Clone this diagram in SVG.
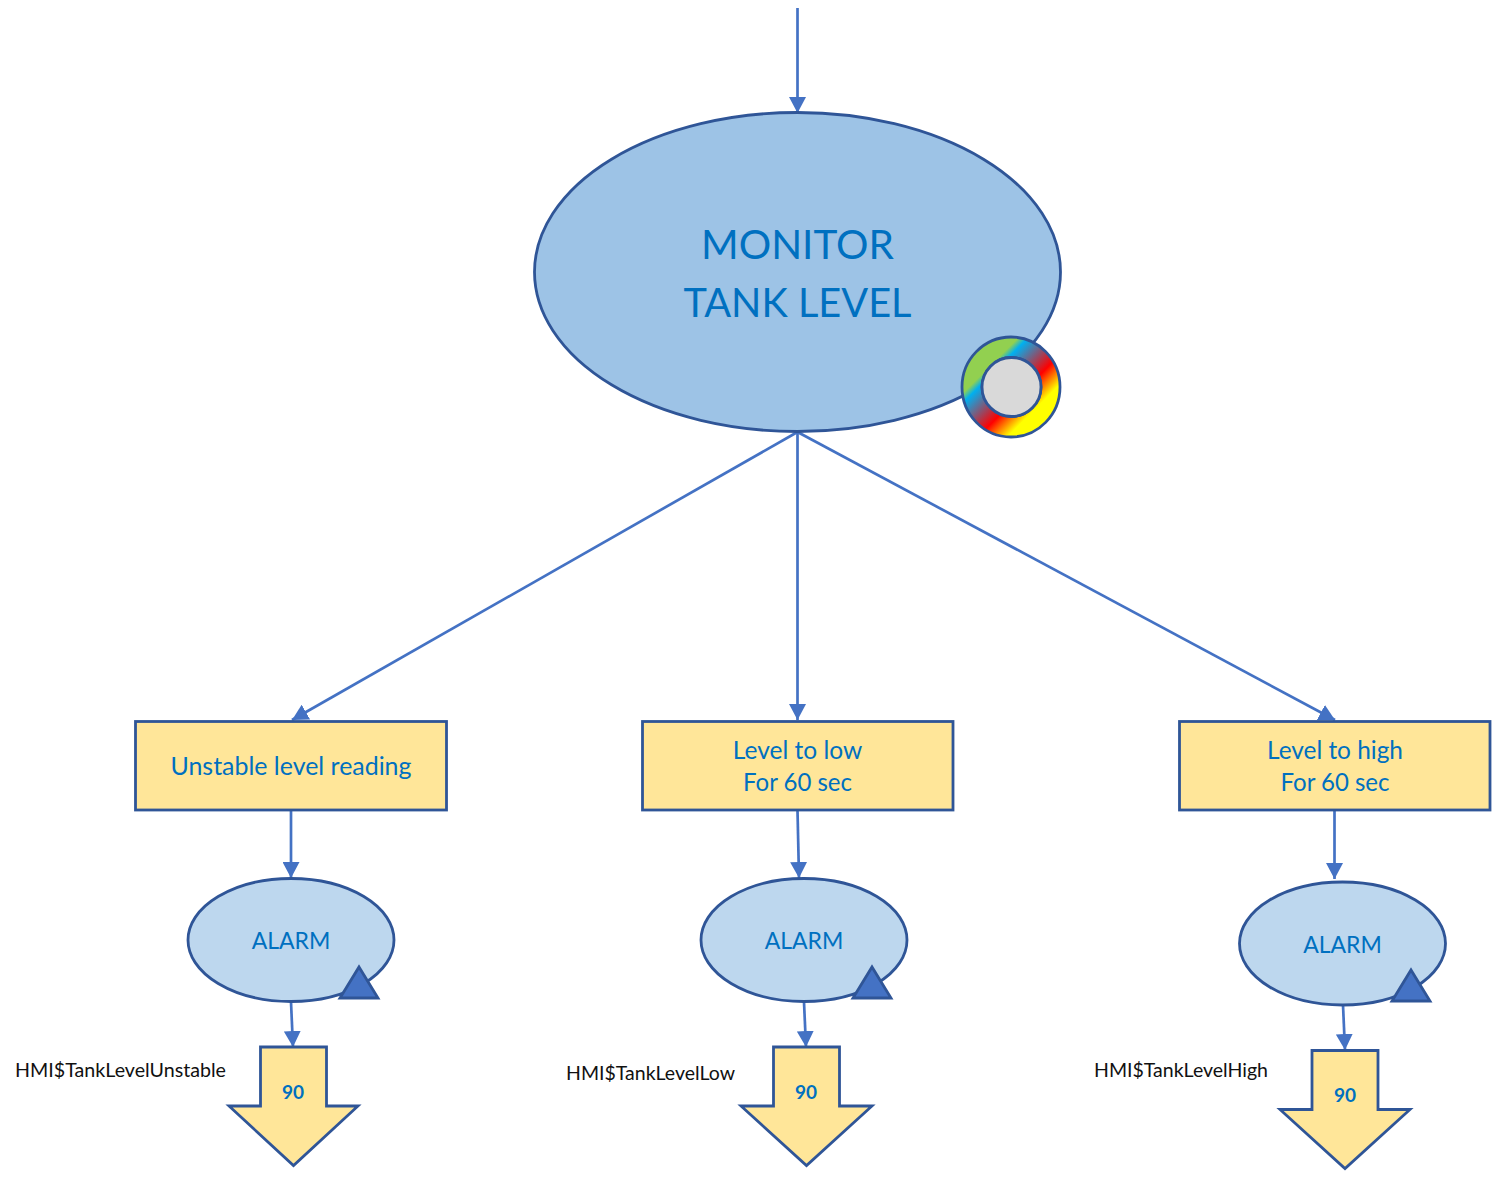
<svg xmlns="http://www.w3.org/2000/svg" width="1499" height="1178" viewBox="0 0 1499 1178">
<style>
text{font-family:"Lato","Open Sans","Liberation Sans",sans-serif;text-anchor:middle;fill:#0070c0}
.n{fill:#ffe699;stroke:#2f5597;stroke-width:2.800}
.e{fill:#bdd7ee;stroke:#2f5597;stroke-width:2.800}
.t{fill:#4472c4;stroke:#2f5597;stroke-width:2.800}
.c{fill:none;stroke:#4472c4;stroke-width:2.700}
.l{font-size:24.500px}
.a{font-size:23px}
.v{font-size:19px;font-weight:700}
.h{font-size:19.600px;fill:#111;text-anchor:start}
</style>
<defs>
<marker id="ah" markerUnits="userSpaceOnUse" markerWidth="17" markerHeight="17" refX="16" refY="8.500" orient="auto"><path d="M0 0L16 8.500L0 17Z" fill="#4472c4"/></marker>
<linearGradient id="g" gradientUnits="userSpaceOnUse" x1="976" y1="352" x2="1046" y2="422">
<stop offset="0.2" stop-color="#92d050"/><stop offset="0.27" stop-color="#00b0f0"/><stop offset="0.62" stop-color="#ff0000"/><stop offset="0.83" stop-color="#ffff00"/><stop offset="1" stop-color="#ffff00"/>
</linearGradient>
</defs>
<g id="connectors">
<path class="c" d="M797.500 8V113" marker-end="url(#ah)"/>
<path class="c" d="M797.500 432L292 720" marker-end="url(#ah)"/>
<path class="c" d="M797.500 432V720" marker-end="url(#ah)"/>
<path class="c" d="M797.500 432L1335 720" marker-end="url(#ah)"/>
<path class="c" d="M291 810V878" marker-end="url(#ah)"/>
<path class="c" d="M797.500 810L799 878" marker-end="url(#ah)"/>
<path class="c" d="M1334.500 810V879" marker-end="url(#ah)"/>
<path class="c" d="M291 1002L293 1047" marker-end="url(#ah)"/>
<path class="c" d="M804 1002L806 1047" marker-end="url(#ah)"/>
<path class="c" d="M1343 1005L1345 1050" marker-end="url(#ah)"/>
</g>
<g id="monitor">
<ellipse cx="797.500" cy="272" rx="263" ry="159.500" fill="#9dc3e6" stroke="#2f5597" stroke-width="2.800"/>
<text x="797.500" y="259" font-size="41" textLength="193" lengthAdjust="spacingAndGlyphs">MONITOR</text>
<text x="797.500" y="317" font-size="41" textLength="228" lengthAdjust="spacingAndGlyphs">TANK LEVEL</text>
<path d="M962 387a49 50 0 1 0 98 0a49 50 0 1 0-98 0ZM982 387a29.500 29.500 0 1 1 59 0a29.500 29.500 0 1 1-59 0Z" fill="url(#g)" fill-rule="evenodd" stroke="#2f5597" stroke-width="2.800"/>
<circle cx="1011.500" cy="387" r="29.500" fill="#d9d9d9" stroke="#2f5597" stroke-width="2.800"/>
</g>
<g id="cond-unstable">
<rect class="n" x="135.500" y="721.500" width="311" height="88.500"/>
<text class="l" x="291" y="775" textLength="241" lengthAdjust="spacingAndGlyphs">Unstable level reading</text>
</g>
<g id="cond-low">
<rect class="n" x="642.500" y="721.500" width="310.500" height="88.500"/>
<text class="l" x="797.500" y="759">Level to low</text>
<text class="l" x="797.500" y="791" textLength="109" lengthAdjust="spacingAndGlyphs">For 60 sec</text>
</g>
<g id="cond-high">
<rect class="n" x="1179.500" y="721.500" width="310.500" height="88.500"/>
<text class="l" x="1335" y="759" textLength="136" lengthAdjust="spacingAndGlyphs">Level to high</text>
<text class="l" x="1335" y="791" textLength="109" lengthAdjust="spacingAndGlyphs">For 60 sec</text>
</g>
<g id="alarm-unstable">
<ellipse class="e" cx="291" cy="940" rx="103" ry="61.500"/>
<text class="a" x="291" y="949">ALARM</text>
<path class="t" d="M359 967L378 998H340Z"/>
</g>
<g id="alarm-low">
<ellipse class="e" cx="804" cy="940" rx="103" ry="61.500"/>
<text class="a" x="804" y="949">ALARM</text>
<path class="t" d="M872 967L891 998H853Z"/>
</g>
<g id="alarm-high">
<ellipse class="e" cx="1342.500" cy="943.500" rx="103" ry="61.500"/>
<text class="a" x="1342.500" y="953">ALARM</text>
<path class="t" d="M1411 970L1430 1001H1392Z"/>
</g>
<g id="out-unstable">
<path class="n" d="M260.500 1047H326.500V1106H358L293.500 1165.500L229 1106H260.500Z"/>
<text class="v" x="293" y="1099">90</text>
<text class="h" x="15" y="1077" textLength="211" lengthAdjust="spacingAndGlyphs">HMI$TankLevelUnstable</text>
</g>
<g id="out-low">
<path class="n" d="M773.500 1047H839.500V1106H872L806.500 1165.500L741 1106H773.500Z"/>
<text class="v" x="806" y="1099">90</text>
<text class="h" x="566" y="1080" textLength="169" lengthAdjust="spacingAndGlyphs">HMI$TankLevelLow</text>
</g>
<g id="out-high">
<path class="n" d="M1312 1050.500H1378V1109.500H1410L1345 1168.500L1280 1109.500H1312Z"/>
<text class="v" x="1345" y="1102">90</text>
<text class="h" x="1094" y="1077" textLength="174" lengthAdjust="spacingAndGlyphs">HMI$TankLevelHigh</text>
</g>
</svg>
